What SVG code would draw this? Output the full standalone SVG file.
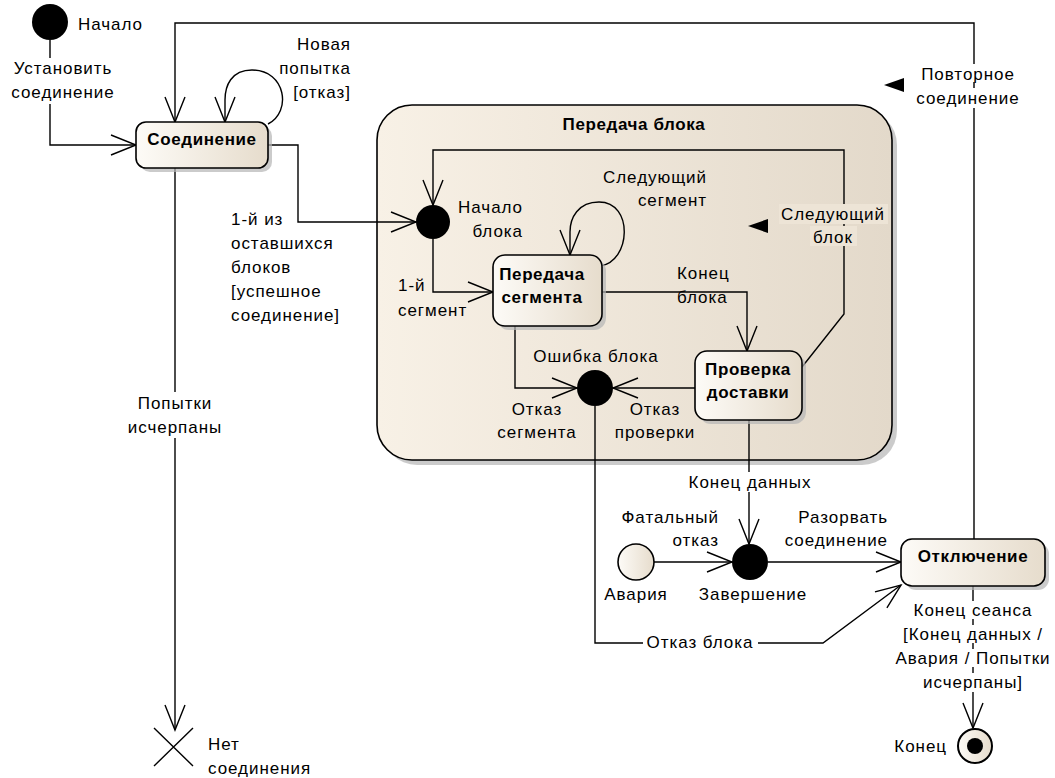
<svg xmlns="http://www.w3.org/2000/svg" width="1055" height="778" viewBox="0 0 1055 778">
<style>
text{font-family:"Liberation Sans",Arial,sans-serif;font-size:17px;fill:#000;letter-spacing:0.95px}
.b{font-weight:bold;letter-spacing:0.6px}
.m{text-anchor:middle}
.e{text-anchor:end}
.c{fill:none;stroke:#000;stroke-width:1.4;marker-end:url(#open)}
.n{fill:url(#ng);stroke:#000;stroke-width:1.6}
.sh{fill:#b5b5b5;opacity:0.7}
.bg{fill:#fff}
</style>
<defs>
<linearGradient id="ng" x1="0" y1="0" x2="1" y2="0">
<stop offset="0" stop-color="#fdfbf7"/><stop offset="1" stop-color="#e6dccc"/>
</linearGradient>
<linearGradient id="cg" x1="0" y1="0" x2="1" y2="0">
<stop offset="0" stop-color="#f8f1e6"/><stop offset="1" stop-color="#e3d9ca"/>
</linearGradient>
<marker id="open" markerUnits="userSpaceOnUse" viewBox="-28 -12 30 24" markerWidth="30" markerHeight="24" refX="0" refY="0" orient="auto">
<path d="M-25,-10 L0,0 L-25,10" fill="none" stroke="#000" stroke-width="1.4"/>
</marker>
</defs>
<rect width="1055" height="778" fill="#fff"/>

<g id="block-transfer">
<rect class="sh" x="382" y="110" width="515" height="355" rx="35"/>
<rect x="377" y="105" width="515" height="355" rx="35" fill="url(#cg)" stroke="#000" stroke-width="1.6"/>
<text class="b m" x="634" y="130">Передача блока</text>
</g>

<g id="connectors">
<path class="c" d="M50,40 L50,145 L136,145"/>
<path class="c" d="M268,124 C292,112 286,70 252,70 C231,70 225,86 225,100 L225,122"/>
<path class="c" d="M974,539 L974,23 L175,23 L175,122"/>
<path class="c" d="M268,145 L298,145 L298,222 L416,222"/>
<path class="c" d="M175,168 L175,730"/>
<path class="c" d="M433,239 L433,292 L493,292"/>
<path class="c" d="M600,266 C631,262 634,202 599,202 C578,202 570,218 570,232 L570,255"/>
<path class="c" d="M602,292 L747,292 L747,351"/>
<path class="c" d="M802,367 L844,314 L844,150 L433,150 L433,205"/>
<path class="c" d="M515,326 L515,388 L577,388"/>
<path class="c" d="M695,388 L613,388"/>
<path class="c" d="M595,406 L595,643 L823,643 L901,585"/>
<path class="c" d="M749,420 L749,544"/>
<path class="c" d="M654,562 L732,562"/>
<path class="c" d="M768,562 L901,562"/>
<path class="c" d="M973,586 L973,728"/>
<polygon points="884,85 904,78 904,92" fill="#000"/>
<polygon points="748,226 768,219 768,233" fill="#000"/>
</g>

<g id="start">
<circle cx="50" cy="22" r="18" fill="#000"/>
<text x="78" y="30">Начало</text>
</g>

<g id="connection">
<rect class="sh" x="140" y="126" width="132" height="46" rx="10"/>
<rect class="n" x="136" y="122" width="132" height="46" rx="10"/>
<text class="b m" x="202" y="145">Соединение</text>
</g>

<g id="block-start">
<circle cx="433" cy="222" r="17" fill="#000"/>
<text class="e" x="523" y="213">Начало</text>
<text class="e" x="523" y="237">блока</text>
</g>

<g id="segment-transfer">
<rect class="sh" x="497" y="259" width="109" height="71" rx="12"/>
<rect class="n" x="493" y="255" width="109" height="71" rx="12"/>
<text class="b m" x="542" y="280">Передача</text>
<text class="b m" x="542" y="303">сегмента</text>
</g>

<g id="delivery-check">
<rect class="sh" x="699" y="355" width="107" height="69" rx="12"/>
<rect class="n" x="695" y="351" width="107" height="69" rx="12"/>
<text class="b m" x="748" y="375">Проверка</text>
<text class="b m" x="748" y="398">доставки</text>
</g>

<g id="block-error">
<circle cx="595" cy="388" r="18" fill="#000"/>
<text class="m" x="596" y="362">Ошибка блока</text>
</g>

<g id="completion">
<circle cx="750" cy="562" r="18" fill="#000"/>
<text class="m" x="753" y="600">Завершение</text>
</g>

<g id="crash">
<circle cx="636" cy="562" r="18" fill="url(#ng)" stroke="#000" stroke-width="1.6"/>
<text class="m" x="636" y="600">Авария</text>
</g>

<g id="disconnect">
<rect class="sh" x="905" y="543" width="144" height="47" rx="11"/>
<rect class="n" x="901" y="539" width="144" height="47" rx="11"/>
<text class="b m" x="973" y="562">Отключение</text>
</g>

<g id="end">
<circle cx="975" cy="746" r="17" fill="url(#ng)" stroke="#000" stroke-width="2"/>
<circle cx="975" cy="746" r="8" fill="#000"/>
<text class="e" x="947" y="752">Конец</text>
</g>

<g id="no-connection">
<path d="M154,728 L193,766 M193,728 L154,766" stroke="#000" stroke-width="1.4" fill="none"/>
<text x="208" y="750">Нет</text>
<text x="208" y="774">соединения</text>
</g>

<g id="labels">
<rect class="bg" x="8" y="58" width="112" height="46"/>
<text class="m" x="63" y="74">Установить</text>
<text class="m" x="63" y="98">соединение</text>
<text class="e" x="351" y="50">Новая</text>
<text class="e" x="351" y="74">попытка</text>
<text class="e" x="351" y="98">[отказ]</text>
<rect class="bg" x="910" y="64" width="116" height="18"/>
<rect class="bg" x="910" y="88" width="116" height="20"/>
<text class="m" x="968" y="80">Повторное</text>
<text class="m" x="968" y="104">соединение</text>
<text x="231" y="225">1-й из</text>
<text x="231" y="249">оставшихся</text>
<text x="231" y="273">блоков</text>
<text x="231" y="297">[успешное</text>
<text x="231" y="321">соединение]</text>
<rect class="bg" x="125" y="392" width="100" height="46"/>
<text class="m" x="175" y="409">Попытки</text>
<text class="m" x="175" y="433">исчерпаны</text>
<text class="e" x="707" y="183">Следующий</text>
<text class="e" x="707" y="206">сегмент</text>
<rect x="779" y="204" width="109" height="20" fill="#ede4d6"/>
<rect x="810" y="226" width="47" height="20" fill="#ede4d6"/>
<text class="m" x="833" y="220">Следующий</text>
<text class="m" x="833" y="243">блок</text>
<text x="398" y="291">1-й</text>
<text x="398" y="316">сегмент</text>
<text x="677" y="279">Конец</text>
<text x="677" y="303">блока</text>
<text class="m" x="537" y="415">Отказ</text>
<text class="m" x="537" y="438">сегмента</text>
<text class="m" x="655" y="415">Отказ</text>
<text class="m" x="655" y="438">проверки</text>
<rect class="bg" x="684" y="472" width="132" height="20"/>
<text class="m" x="750" y="488">Конец данных</text>
<text class="e" x="719" y="523">Фатальный</text>
<text class="e" x="719" y="546">отказ</text>
<text class="e" x="888" y="523">Разорвать</text>
<text class="e" x="888" y="546">соединение</text>
<rect class="bg" x="643" y="633" width="115" height="20"/>
<text class="m" x="700" y="648">Отказ блока</text>
<rect class="bg" x="902" y="601" width="142" height="18"/>
<rect class="bg" x="902" y="625" width="142" height="18"/>
<rect class="bg" x="902" y="649" width="142" height="18"/>
<rect class="bg" x="902" y="673" width="142" height="19"/>
<text class="m" x="973" y="616">Конец сеанса</text>
<text class="m" x="973" y="640">[Конец данных /</text>
<text class="m" x="973" y="664">Авария / Попытки</text>
<text class="m" x="973" y="688">исчерпаны]</text>
</g>
</svg>
